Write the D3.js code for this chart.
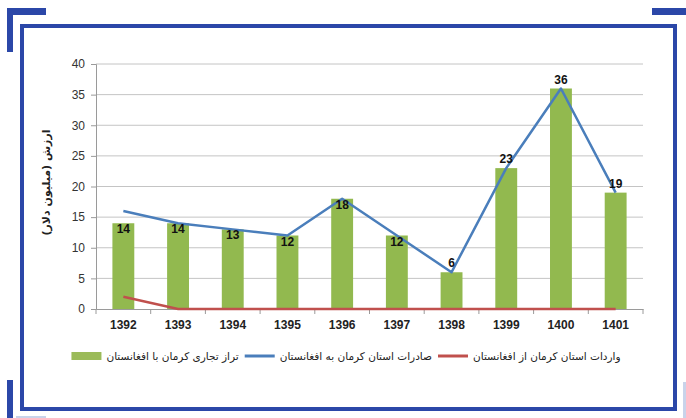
<!DOCTYPE html>
<html>
<head>
<meta charset="utf-8">
<script src="https://cdn.jsdelivr.net/npm/d3@7"></script>
<style>
  body { margin: 0; background: #fff; }
  svg { display: block; }
  .axis text { font-family: "Liberation Sans", Arial, sans-serif; }
</style>
</head>
<body>
<div id="chart"></div>
<script>
// data
var years = ["1392", "1393", "1394", "1395", "1396", "1397", "1398", "1399", "1400", "1401"];
var balance = [14, 14, 13, 12, 18, 12, 6, 23, 36, 19];   // trade balance (bars)
var exports = [16, 14, 13, 12, 18, 12, 6, 23, 36, 19];   // exports (blue line)
var imports = [2, 0, 0, 0, 0, 0, 0, 0, 0, 0];            // imports (red line)
var yTicks = [0, 5, 10, 15, 20, 25, 30, 35, 40];

var legendNames = ["تراز تجاری  کرمان با افغانستان", "صادرات  استان کرمان به افغانستان", "واردات استان کرمان از افغانستان"];
var yTitle = "ارزش (میلیون دلار)";

var W = 686, H = 418;
var margin = { left: 96, right: 43, top: 64, bottom: 109 };
var width = W - margin.left - margin.right,
    height = H - margin.top - margin.bottom;

var svg = d3.select("#chart").append("svg")
    .attr("width", W)
    .attr("height", H);

// frame and corner marks
var frameCol = "#2b47a8";
svg.append("rect")
    .attr("x", 22).attr("y", 26)
    .attr("width", 653).attr("height", 383)
    .attr("fill", "none")
    .attr("stroke", frameCol)
    .attr("stroke-width", 4);

svg.append("path").attr("fill", frameCol)
    .attr("d", "M7,8 H46 V15 H13 V52 H7 Z");
svg.append("path").attr("fill", frameCol)
    .attr("d", "M652,8 H686 V15 H652 Z");
svg.append("rect").attr("fill", frameCol)
    .attr("x", 7).attr("y", 380).attr("width", 6).attr("height", 38);
svg.append("rect").attr("fill", "#c9d3ea")
    .attr("x", 683).attr("y", 382).attr("width", 3).attr("height", 36);
svg.append("rect").attr("fill", "#c9d3ea")
    .attr("x", 16).attr("y", 416).attr("width", 30).attr("height", 2);

var g = svg.append("g")
    .attr("transform", "translate(" + margin.left + "," + margin.top + ")");

var x = d3.scaleBand().domain(years).range([0, width]);
var y = d3.scaleLinear().domain([0, 40]).range([height, 0]);

// gridlines
g.append("g").selectAll("line")
    .data(yTicks.filter(function(d){ return d > 0; }))
    .enter().append("line")
    .attr("x1", 0).attr("x2", width)
    .attr("y1", function(d){ return y(d); })
    .attr("y2", function(d){ return y(d); })
    .attr("stroke", "#c4c4c4")
    .attr("stroke-width", 1);

// y axis
var yAxis = g.append("g").attr("class", "axis")
    .call(d3.axisLeft(y).tickValues(yTicks).tickSize(5).tickPadding(6));
yAxis.selectAll("line").attr("stroke", "#9a9a9a");
yAxis.select(".domain").attr("stroke", "#9a9a9a");
yAxis.selectAll("text").attr("font-size", "12px").attr("fill", "#333");

// bars
var bw = x.bandwidth() * 0.4;
g.selectAll("rect.bar")
    .data(balance)
    .enter().append("rect")
    .attr("class", "bar")
    .attr("x", function(d, i){ return x(years[i]) + (x.bandwidth() - bw) / 2; })
    .attr("width", bw)
    .attr("y", function(d){ return y(d); })
    .attr("height", function(d){ return height - y(d); })
    .attr("fill", "#92b94f");

// x axis
var xAxis = g.append("g").attr("class", "axis")
    .attr("transform", "translate(0," + height + ")")
    .call(d3.axisBottom(x).tickSize(0).tickPadding(11));
xAxis.select(".domain").attr("stroke", "#9a9a9a");
xAxis.selectAll("text")
    .attr("font-size", "12px")
    .attr("font-weight", "bold")
    .attr("fill", "#222");

// boundary ticks between categories
var edges = years.map(function(d){ return x(d); }).concat([width]);
g.append("g").selectAll("line")
    .data(edges)
    .enter().append("line")
    .attr("x1", function(d){ return d; }).attr("x2", function(d){ return d; })
    .attr("y1", height).attr("y2", height + 5)
    .attr("stroke", "#9a9a9a");

var cx = function(d, i){ return x(years[i]) + x.bandwidth() / 2; };

// lines
var line = d3.line()
    .x(function(d, i){ return cx(d, i); })
    .y(function(d){ return y(d); });

g.append("path").datum(imports)
    .attr("d", line)
    .attr("fill", "none")
    .attr("stroke", "#c0504d")
    .attr("stroke-width", 2.5);

g.append("path").datum(exports)
    .attr("d", line)
    .attr("fill", "none")
    .attr("stroke", "#4a7ebb")
    .attr("stroke-width", 2.5)
    .attr("stroke-linejoin", "round");

// value labels
g.selectAll("text.lbl")
    .data(balance)
    .enter().append("text")
    .attr("class", "lbl")
    .attr("x", cx)
    .attr("y", function(d){ return (d >= 19 || d <= 6) ? y(d) - 5 : y(d) + 10; })
    .attr("text-anchor", "middle")
    .attr("font-family", "Liberation Sans, Arial, sans-serif")
    .attr("font-size", "12px")
    .attr("font-weight", "bold")
    .attr("fill", "#111")
    .text(function(d){ return d; });

// y axis title
svg.append("text")
    .attr("transform", "translate(50," + (margin.top + height / 2 - 4) + ") rotate(-90)")
    .attr("text-anchor", "middle")
    .attr("font-family", "DejaVu Sans, sans-serif")
    .attr("font-size", "11px")
    .attr("font-weight", "bold")
    .attr("fill", "#222")
    .text(yTitle);

// legend: swatch then text, left to right
var legendCols = ["#9bbb59", "#4a7ebb", "#c0504d"];
var legend = svg.append("g");
var lx = 0, ly = 356;
legendNames.forEach(function(name, i){
    if (i === 0) {
        legend.append("rect")
            .attr("x", lx).attr("y", ly - 4)
            .attr("width", 30).attr("height", 8)
            .attr("fill", legendCols[i]);
    } else {
        legend.append("line")
            .attr("x1", lx).attr("x2", lx + 30)
            .attr("y1", ly).attr("y2", ly)
            .attr("stroke", legendCols[i])
            .attr("stroke-width", 3);
    }
    lx += 35;
    var t = legend.append("text")
        .attr("x", lx).attr("y", ly + 4)
        .attr("font-family", "DejaVu Sans, sans-serif")
        .attr("font-size", "10.5px")
        .attr("fill", "#222")
        .text(name);
    lx += t.node().getComputedTextLength() + 6;
});
var lw = lx - 6;
legend.attr("transform", "translate(" + (346 - lw / 2) + ",0)");
</script>
</body>
</html>
